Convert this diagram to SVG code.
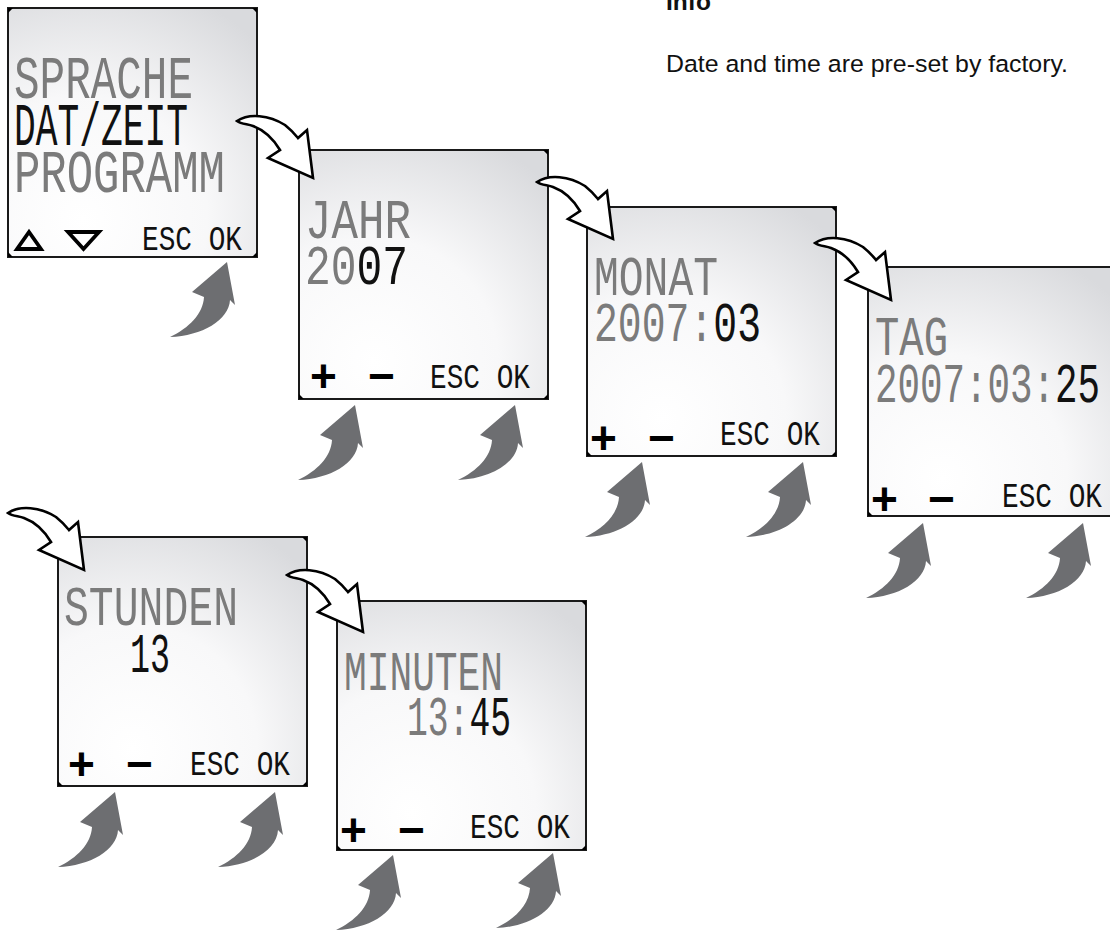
<svg xmlns="http://www.w3.org/2000/svg" width="1110" height="932" viewBox="0 0 1110 932">
<defs>
<radialGradient id="lcd" cx="0.3" cy="0.85" r="1">
<stop offset="0" stop-color="#ffffff"/>
<stop offset="0.5" stop-color="#f8f8f9"/>
<stop offset="1" stop-color="#d9dadd"/>
</radialGradient>
<path id="warrow" d="M0,1 C12,-7 32,-5 48,5 C53,9 57,13 61,18 L70,10 L76,58 L31,38 L43,30 C37,20 27,10 16,6 C10,4 4,4 0,1 Z"/>
<path id="garrow" d="M0,0 L8,43 L3,38 C2,58 -25,74 -57,75 C-38,66 -24,52 -23,35 L-35,30 Z"/>
<g id="frame">
<rect x="0" y="0" width="249" height="249" fill="url(#lcd)" stroke="#1a1a1a" stroke-width="2"/>
<path d="M0,0 h5 l-5,5 z M249,0 h-5 l5,5 z M0,249 h5 l-5,-5 z M249,249 h-5 l5,-5 z" fill="#000"/>
</g>
</defs>
<style>
.lcd{font-family:"Liberation Mono",monospace;font-size:56px}
.lcd1{font-family:"Liberation Mono",monospace;font-size:61px}
.btn{font-family:"Liberation Mono",monospace;font-size:35px;fill:#111}
.g{fill:#7b7b7b}
.k{fill:#111}
.pm{font-family:"Liberation Sans",Arial,sans-serif;font-weight:bold;font-size:46px;fill:#000}
.wa{fill:#fff;stroke:#000;stroke-width:2.6;stroke-linejoin:miter}
.ga{fill:#6d6e71}
.info{font-family:"Liberation Sans",Arial,sans-serif;font-size:24.5px;fill:#111}
</style>

<g id="info">
<text class="info" x="666" y="10" font-weight="bold">Info</text>
<text class="info" x="666" y="72" textLength="402" lengthAdjust="spacingAndGlyphs">Date and time are pre-set by factory.</text>
</g>

<g id="screen-sprache" transform="translate(8,8)">
<use href="#frame"/>
<text class="lcd1 g" x="6" y="90" textLength="179" lengthAdjust="spacingAndGlyphs">SPRACHE</text>
<text class="lcd1 k" x="6" y="137" textLength="174" lengthAdjust="spacingAndGlyphs">DAT/ZEIT</text>
<text class="lcd1 g" x="6" y="184" textLength="211" lengthAdjust="spacingAndGlyphs">PROGRAMM</text>
<polygon points="9,241 21,224 33,241" fill="none" stroke="#000" stroke-width="3.8" stroke-linejoin="miter"/>
<polygon points="60,224 91,224 75.5,241" fill="none" stroke="#000" stroke-width="3.8" stroke-linejoin="miter"/>
<text class="btn" x="134" y="242" textLength="100" lengthAdjust="spacingAndGlyphs">ESC OK</text>
</g>

<g id="screen-jahr" transform="translate(299,150)">
<use href="#frame"/>
<text class="lcd g" x="6" y="88" textLength="106" lengthAdjust="spacingAndGlyphs">JAHR</text>
<text class="lcd g" x="6" y="134" textLength="103" lengthAdjust="spacingAndGlyphs">20<tspan class="k">07</tspan></text>
<text class="pm" x="11" y="242">+</text>
<text class="pm" x="69" y="242">−</text>
<text class="btn" x="131" y="238" textLength="100" lengthAdjust="spacingAndGlyphs">ESC OK</text>
</g>

<g id="screen-monat" transform="translate(587,207)">
<use href="#frame"/>
<text class="lcd g" x="7" y="88" textLength="124" lengthAdjust="spacingAndGlyphs">MONAT</text>
<text class="lcd g" x="7" y="134" textLength="167" lengthAdjust="spacingAndGlyphs">2007:<tspan class="k">03</tspan></text>
<text class="pm" x="3" y="247">+</text>
<text class="pm" x="61" y="247">−</text>
<text class="btn" x="133" y="238" textLength="100" lengthAdjust="spacingAndGlyphs">ESC OK</text>
</g>

<g id="screen-tag" transform="translate(868,267)">
<use href="#frame"/>
<text class="lcd g" x="7" y="88" textLength="73" lengthAdjust="spacingAndGlyphs">TAG</text>
<text class="lcd g" x="7" y="135" textLength="225" lengthAdjust="spacingAndGlyphs">2007:03:<tspan class="k">25</tspan></text>
<text class="pm" x="3" y="248">+</text>
<text class="pm" x="60" y="248">−</text>
<text class="btn" x="134" y="240" textLength="100" lengthAdjust="spacingAndGlyphs">ESC OK</text>
</g>

<g id="screen-stunden" transform="translate(58,537)">
<use href="#frame"/>
<text class="lcd g" x="6" y="88" textLength="174" lengthAdjust="spacingAndGlyphs">STUNDEN</text>
<text class="lcd k" x="72" y="135" textLength="40" lengthAdjust="spacingAndGlyphs">13</text>
<text class="pm" x="10" y="243">+</text>
<text class="pm" x="68" y="243">−</text>
<text class="btn" x="132" y="238" textLength="100" lengthAdjust="spacingAndGlyphs">ESC OK</text>
</g>

<g id="screen-minuten" transform="translate(337,601)">
<use href="#frame"/>
<text class="lcd g" x="7" y="89" textLength="159" lengthAdjust="spacingAndGlyphs">MINUTEN</text>
<text class="lcd g" x="70" y="134" textLength="104" lengthAdjust="spacingAndGlyphs">13:<tspan class="k">45</tspan></text>
<text class="pm" x="3" y="245">+</text>
<text class="pm" x="61" y="245">−</text>
<text class="btn" x="133" y="237" textLength="100" lengthAdjust="spacingAndGlyphs">ESC OK</text>
</g>

<g id="connectors">
<use href="#warrow" class="wa" transform="translate(237,120)"/>
<use href="#warrow" class="wa" transform="translate(537,181)"/>
<use href="#warrow" class="wa" transform="translate(815,242)"/>
<use href="#warrow" class="wa" transform="translate(8,512)"/>
<use href="#warrow" class="wa" transform="translate(287,574)"/>
<use href="#garrow" class="ga" transform="translate(227,262)"/>
<use href="#garrow" class="ga" transform="translate(355,405)"/>
<use href="#garrow" class="ga" transform="translate(515,405)"/>
<use href="#garrow" class="ga" transform="translate(642,462)"/>
<use href="#garrow" class="ga" transform="translate(803,462)"/>
<use href="#garrow" class="ga" transform="translate(923,523)"/>
<use href="#garrow" class="ga" transform="translate(1083,523)"/>
<use href="#garrow" class="ga" transform="translate(115,792)"/>
<use href="#garrow" class="ga" transform="translate(275,792)"/>
<use href="#garrow" class="ga" transform="translate(393,855)"/>
<use href="#garrow" class="ga" transform="translate(553,853)"/>
</g>
</svg>
